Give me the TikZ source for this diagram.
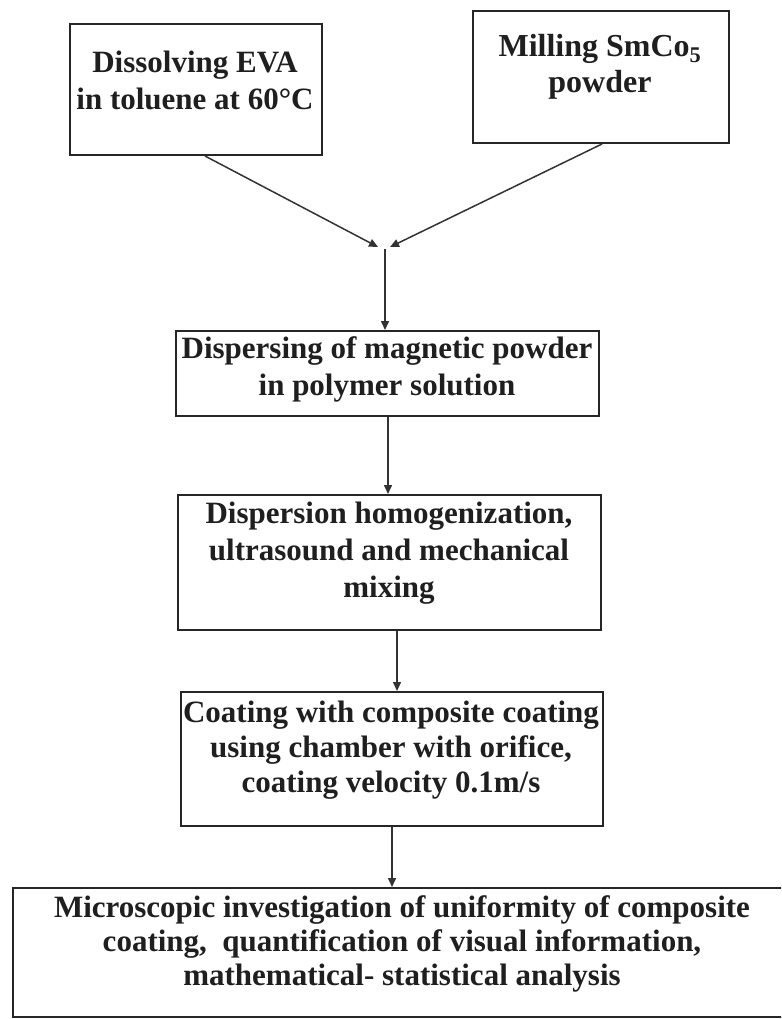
\documentclass[tikz,border=0pt]{standalone}
\usepackage{fontspec}
\setmainfont{Liberation Serif}
\usetikzlibrary{arrows.meta}
\begin{document}
\begin{tikzpicture}[x=1pt,y=-1pt,
  box/.style={draw=black!85, line width=2pt, anchor=north west, inner sep=0pt},
  lbl/.style={align=center, font=\fontsize{31}{37}\selectfont\bfseries, text=black!88, inner sep=0pt},
  arr/.style={draw=black!80, line width=1.5pt, -{Triangle[length=9pt,width=8pt]}}]
\clip (0,0) rectangle (781,1019);
\fill[white] (0,0) rectangle (781,1019);
% boxes
\node[box, minimum width=252pt, minimum height=131pt] (b1) at (69,23) {};
\node[box, minimum width=256pt, minimum height=132pt] (b2) at (472,10) {};
\node[box, minimum width=423pt, minimum height=85pt] (b3) at (175,330) {};
\node[box, minimum width=423pt, minimum height=135pt] (b4) at (177,494) {};
\node[box, minimum width=422pt, minimum height=134pt] (b5) at (180,691) {};
\node[box, minimum width=790pt, minimum height=129pt] (b6) at (12,887) {};
% labels
\node[lbl, font=\fontsize{31}{37}\selectfont\bfseries] (t1) at (195,80) {Dissolving EVA\\in toluene at 60°C};
\node[lbl, font=\fontsize{32}{36}\selectfont\bfseries] (t2) at (600,67) {Milling SmCo\textsubscript{5}\\powder};
\node[lbl] (t3) at (387,369) {Dispersing of magnetic powder\\in polymer solution};
\node[lbl] (t4) at (389,553) {Dispersion homogenization,\\ultrasound and mechanical\\mixing};
\node[lbl, font=\fontsize{31}{35}\selectfont\bfseries] (t5) at (391,750) {Coating with composite coating\\using chamber with orifice,\\coating velocity 0.1m/s};
\node[lbl, font=\fontsize{31}{34}\selectfont\bfseries] (t6) at (402,944) {Microscopic investigation of uniformity of composite\\coating,\ \ quantification of visual information,\\mathematical- statistical analysis};
% connector coordinates
\coordinate (s1) at (205,0);
\coordinate (s2) at (602,0);
\coordinate (m1) at (378,247);
\coordinate (m2) at (390,247);
\coordinate (m) at (385,249);
\coordinate (x34) at (388,0);
\coordinate (x45) at (397,0);
\coordinate (x56) at (392,0);
% connectors
\draw[arr] (b1.south -| s1) -- (m1);
\draw[arr] (b2.south -| s2) -- (m2);
\draw[arr] (m) -- (b3.north -| m);
\draw[arr] (b3.south -| x34) -- (b4.north -| x34);
\draw[arr] (b4.south -| x45) -- (b5.north -| x45);
\draw[arr] (b5.south -| x56) -- (b6.north -| x56);
\end{tikzpicture}
\end{document}
